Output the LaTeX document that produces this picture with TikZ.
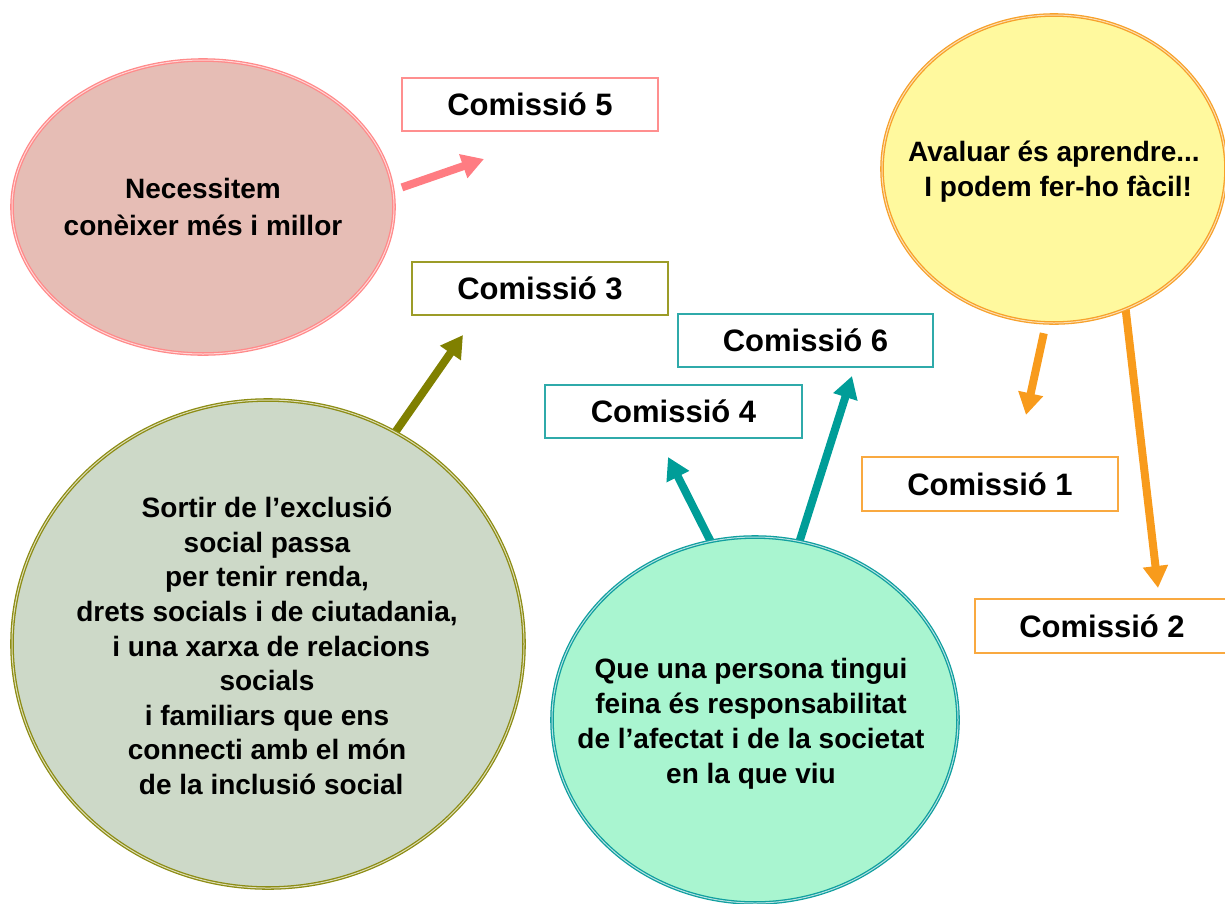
\documentclass[tikz,border=0pt]{standalone}
\usepackage{fontspec}
\setmainfont{Liberation Sans}
\usetikzlibrary{shapes.geometric,arrows.meta}
\definecolor{pinkfill}{HTML}{E6BDB5}
\definecolor{pinkline}{HTML}{FF8A8A}
\definecolor{pinkarrow}{HTML}{FF7C82}
\definecolor{yelfill}{HTML}{FFF99E}
\definecolor{yelline}{HTML}{F7A12A}
\definecolor{orangearrow}{HTML}{F89B1C}
\definecolor{grnfill}{HTML}{CDD9C8}
\definecolor{oliveline}{HTML}{8C8C14}
\definecolor{olivearrow}{HTML}{808000}
\definecolor{tealfill}{HTML}{A9F5D0}
\definecolor{tealline}{HTML}{109F9F}
\definecolor{tealarrow}{HTML}{009D98}
\definecolor{boxpink}{HTML}{FF8F8F}
\definecolor{boxolive}{HTML}{9C9C28}
\definecolor{boxteal}{HTML}{2FAAAA}
\definecolor{boxorange}{HTML}{F9A940}
\pgfdeclarelayer{bg}
\pgfsetlayers{bg,main}
\begin{document}
\begin{tikzpicture}[x=1pt,y=-1pt,
  bubble/.style={ellipse, inner sep=0pt, line width=1.3pt, double distance=1pt},
  btext/.style={align=center, font=\bfseries\fontsize{28}{35}\selectfont, inner sep=0pt},
  combox/.style={rectangle, fill=white, line width=1.2pt, minimum height=53pt, inner sep=0pt, font=\bfseries\fontsize{31}{36}\selectfont},
  conn/.style={line width=8pt, -{Triangle[width=24pt,length=22pt]}}]
\useasboundingbox (0,0) rectangle (1225,903);

% bubbles
\node[bubble, draw=pinkline, double=pinkline!35, fill=pinkfill, minimum width=382pt, minimum height=294pt] (pink) at (203,207) {};
\node[bubble, draw=yelline, double=yelline!35, fill=yelfill, minimum width=344pt, minimum height=308pt] (yel) at (1054,169) {};
\node[bubble, draw=oliveline, double=oliveline!30, fill=grnfill, minimum width=512pt, minimum height=488pt] (grn) at (268,644) {};
\node[bubble, draw=tealline, double=tealline!30, fill=tealfill, minimum width=406pt, minimum height=366pt] (teal) at (755,720) {};

% bubble texts
\node[btext, font=\bfseries\fontsize{28}{37}\selectfont] (pinkt) at (203,207) {Necessitem\\conèixer més i millor};
\node[btext] (yelt) at (1054,172) {Avaluar és aprendre...\\\hspace*{0.3em}I podem fer-ho fàcil!};
\node[btext, font=\bfseries\fontsize{28}{34.6}\selectfont] (grnt) at (267,646) {Sortir de l’exclusió\\social passa\\per tenir renda,\\drets socials i de ciutadania,\\\hspace*{0.3em}i una xarxa de relacions\\socials\\i familiars que ens\\connecti amb el món\\\hspace*{0.3em}de la inclusió social};
\node[btext] (tealt) at (751,724) {Que una persona tingui\\feina és responsabilitat\\de l’afectat i de la societat\\en la que viu};

% boxes
\node[combox, draw=boxpink, minimum width=256pt] (c5) at (530,104.5) {Comissió 5};
\node[combox, draw=boxolive, minimum width=256pt] (c3) at (540,288.5) {Comissió 3};
\node[combox, draw=boxteal, minimum width=255pt] (c6) at (805.5,340.5) {Comissió 6};
\node[combox, draw=boxteal, minimum width=257pt] (c4) at (673.5,411.5) {Comissió 4};
\node[combox, draw=boxorange, minimum width=256pt, minimum height=54pt] (c1) at (990,484) {Comissió 1};
\node[combox, draw=boxorange, minimum width=254pt, minimum height=54pt] (c2) at (1102,626) {Comissió 2};

% arrow tips
\coordinate (t5) at (484,159);
\coordinate (t3) at (463,335);
\coordinate (t4) at (668,457);
\coordinate (t6) at (852,376);
\coordinate (t1) at (1026,415);
\coordinate (t2) at (1158,588);

\begin{pgfonlayer}{bg}
\draw[conn, pinkarrow, shorten <=9pt] (pink.5) -- (t5);
\draw[conn, olivearrow] (grn.59) -- (t3);
\draw[conn, tealarrow] (teal.104) -- (t4);
\draw[conn, tealarrow] (teal.76) -- (t6);
\draw[conn, orangearrow, shorten <=10pt] (yel.267) -- (t1);
\draw[conn, orangearrow] (yel.297) -- (t2);
\end{pgfonlayer}
\end{tikzpicture}
\end{document}
